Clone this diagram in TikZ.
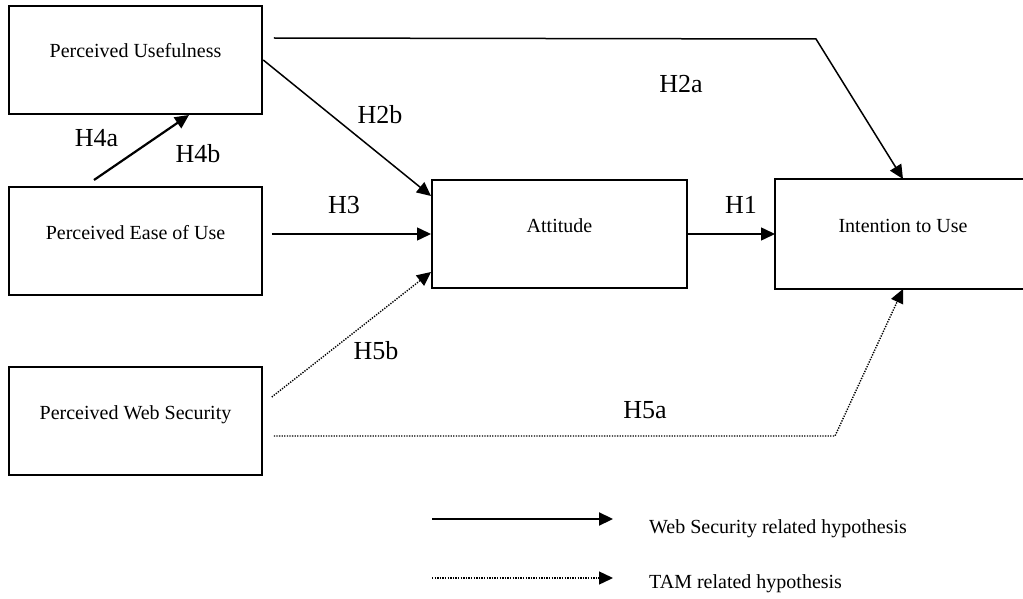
\documentclass[tikz,border=0pt]{standalone}
\usepackage{fontspec}
\setmainfont{Liberation Serif}
\usetikzlibrary{arrows.meta,positioning}

\begin{document}
\begin{tikzpicture}[x=1pt, y=-1pt, >={Triangle[length=14pt,width=13pt]}]
\tikzstyle{block} = [rectangle, draw, line width=2pt, minimum width=253.5pt,
minimum height=108pt, text height=14pt, text depth=18pt, inner sep=0pt,
font=\fontsize{20}{24}\selectfont]
\tikzstyle{hyp} = [anchor=base, inner sep=0pt, font=\fontsize{26}{30}\selectfont]
\tikzstyle{line} = [draw, ->, line width=1.5pt]
\tikzstyle{thick line} = [draw, ->, line width=2.2pt]
\tikzstyle{dotline} = [draw, ->, line width=1.4pt, dash pattern=on 1.3pt off 1.3pt]
\useasboundingbox (0,0) rectangle (1023,599);
\node[block] at (135.5,60) (pu){Perceived Usefulness};
\node[block] at (135.5,241) (peu){Perceived Ease of Use};
\node[block] at (135.5,421) (pws){Perceived Web Security};
\node[block,minimum width=255pt] at (559.5,234) (att){Attitude};
% box runs off the right edge of the page, so no right side
\node[block,draw=none,minimum width=254pt] at (903,234) (itu){Intention to Use};
\draw[line width=2pt] ([xshift=130pt]itu.north east) -- (itu.north west)
  -- (itu.south west) -- ([xshift=130pt]itu.south east);
\coordinate (bendA) at (816,39);
\coordinate (bendB) at (835,436);
%% hypothesis labels
\node[hyp] at (681,93) (h2a){H2a};
\node[hyp] at (380,124) (h2b){H2b};
\node[hyp] at (96.5,147) (h4a){H4a};
\node[hyp] at (198,163) (h4b){H4b};
\node[hyp] at (344,213) (h3){H3};
\node[hyp] at (741,213) (h1){H1};
\node[hyp] at (376,359) (h5b){H5b};
\node[hyp] at (645,418) (h5a){H5a};
%% arrows
\draw[line] ([xshift=10.5pt,yshift=-33pt]pu.north east) -- (bendA) -- (itu.north);
\draw[line] (pu.east) -- ([yshift=-17pt]att.north west);
\draw[thick line] ([xshift=-41.5pt,yshift=6pt]peu.north) -- ([xshift=53.5pt]pu.south);
\draw[line] ([xshift=8.5pt,yshift=7pt]peu.east) -- (att.west);
\draw[line] (att.east) -- (itu.west);
\draw[dotline] ([xshift=8.5pt,yshift=-31pt]pws.north east) -- ([yshift=17pt]att.south west);
\draw[dotline] ([xshift=10.5pt,yshift=-15pt]pws.east) -- (bendB) -- (itu.south);
%% legend
\coordinate (legA) at (432,519);
\coordinate (legB) at (613,519);
\coordinate (legC) at (432,578);
\coordinate (legD) at (613,578);
\draw[thick line] (legA) -- (legB);
\draw[dotline] (legC) -- (legD);
\node[anchor=base west, inner sep=0pt, font=\fontsize{20}{24}\selectfont] at (649,533) (leg1){Web Security related hypothesis};
\node[anchor=base west, inner sep=0pt, font=\fontsize{20}{24}\selectfont] at (649,588) (leg2){TAM related hypothesis};
\end{tikzpicture}
\end{document}
